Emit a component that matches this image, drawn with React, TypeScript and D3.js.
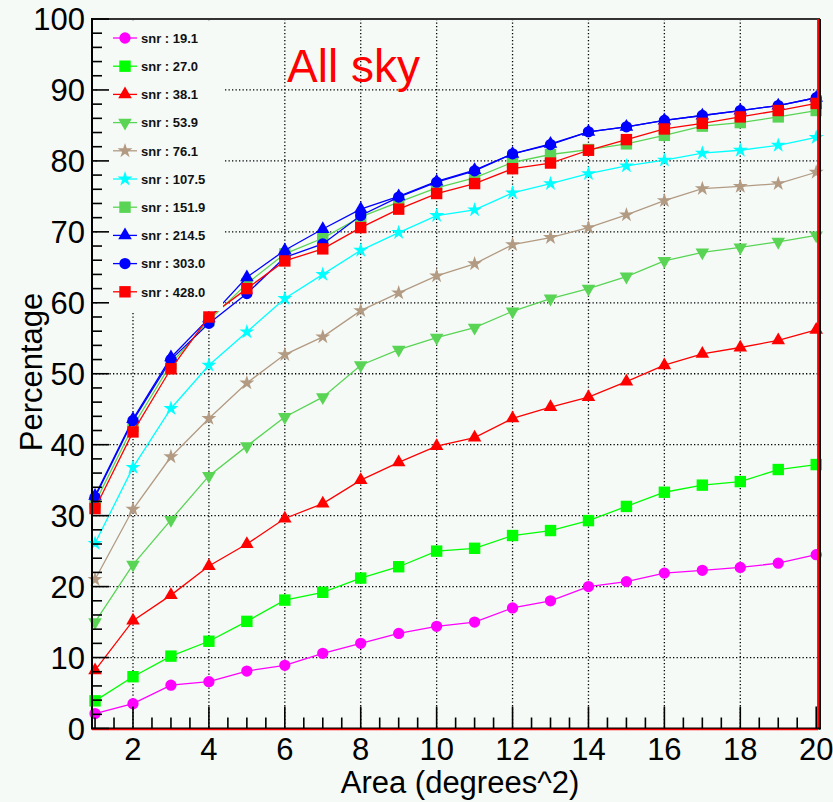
import React from "react";
import * as d3 from "d3";

const areas = [1, 2, 3, 4, 5, 6, 7, 8, 9, 10, 11, 12, 13, 14, 15, 16, 17, 18, 19, 20];

const snr19 = [2.1, 3.5, 6.1, 6.6, 8.1, 8.9, 10.6, 12.0, 13.4, 14.4, 15.0, 17.0, 18.0, 20.0, 20.7, 21.9, 22.3, 22.7, 23.3, 24.5];
const snr27 = [3.9, 7.3, 10.2, 12.3, 15.1, 18.1, 19.2, 21.2, 22.8, 25.0, 25.4, 27.2, 27.9, 29.3, 31.3, 33.3, 34.3, 34.8, 36.5, 37.2];
const snr38 = [8.2, 15.2, 18.8, 22.9, 26.0, 29.6, 31.7, 35.0, 37.5, 39.8, 41.0, 43.7, 45.3, 46.7, 48.9, 51.2, 52.8, 53.7, 54.7, 56.2];
const snr54 = [15.0, 23.1, 29.4, 35.6, 39.8, 43.9, 46.7, 51.2, 53.4, 55.1, 56.5, 58.8, 60.6, 62.0, 63.7, 65.9, 67.1, 67.8, 68.6, 69.5];
const snr76 = [21.0, 30.9, 38.3, 43.7, 48.7, 52.7, 55.2, 58.9, 61.4, 63.8, 65.5, 68.2, 69.2, 70.6, 72.4, 74.4, 76.1, 76.4, 76.8, 78.4];
const snr107 = [26.1, 36.8, 45.1, 51.2, 55.9, 60.6, 64.0, 67.4, 69.9, 72.3, 73.1, 75.5, 76.8, 78.2, 79.3, 80.1, 81.1, 81.5, 82.2, 83.3];
const snr152 = [31.8, 42.6, 51.4, 57.5, 62.7, 66.9, 69.1, 72.1, 74.2, 76.2, 77.6, 79.8, 80.9, 81.6, 82.4, 83.6, 84.9, 85.4, 86.2, 87.1];
const snr214 = [32.8, 43.6, 52.3, 57.8, 63.6, 67.4, 70.4, 73.2, 75.0, 77.1, 78.7, 81.0, 82.4, 84.1, 84.8, 85.7, 86.4, 87.1, 87.8, 88.9];
const snr303 = [32.6, 43.4, 52.0, 57.1, 61.3, 66.4, 68.3, 72.3, 74.9, 77.0, 78.6, 81.0, 82.3, 84.1, 84.8, 85.7, 86.4, 87.1, 87.8, 88.9];
const snr428 = [31.0, 41.8, 50.7, 58.0, 62.0, 65.9, 67.6, 70.6, 73.2, 75.4, 76.8, 78.9, 79.7, 81.5, 83.0, 84.5, 85.3, 86.2, 87.1, 88.1];

const seriesLabels = ["snr : 19.1", "snr : 27.0", "snr : 38.1", "snr : 53.9", "snr : 76.1", "snr : 107.5", "snr : 151.9", "snr : 214.5", "snr : 303.0", "snr : 428.0"];
const seriesValues = [snr19, snr27, snr38, snr54, snr76, snr107, snr152, snr214, snr303, snr428];
const seriesColors = ["#ff00ff", "#00ff00", "#ff0000", "#59d454", "#b39a82", "#00ffff", "#59d454", "#0000ff", "#0000ff", "#ff0000"];
const seriesMarkers = ["circle", "square", "triUp", "triDown", "star", "star", "square", "triUp", "circle", "square"];

const xTicks = [2, 4, 6, 8, 10, 12, 14, 16, 18, 20];
const yTicks = [0, 10, 20, 30, 40, 50, 60, 70, 80, 90, 100];

const BG = "#f5faf7";

function markerPath(kind: string): { d: string; rot: number } {
  switch (kind) {
    case "circle":
      return { d: d3.symbol().type(d3.symbolCircle).size(100)()!, rot: 0 };
    case "square":
      return { d: d3.symbol().type(d3.symbolSquare).size(130)()!, rot: 0 };
    case "triUp":
      return { d: d3.symbol().type(d3.symbolTriangle).size(80)()!, rot: 0 };
    case "triDown":
      return { d: d3.symbol().type(d3.symbolTriangle).size(80)()!, rot: 180 };
    default:
      return { d: d3.symbol().type(d3.symbolStar).size(70)()!, rot: 0 };
  }
}

export default function App() {
  const W = 833, H = 802;
  const left = 92, right = 820, top = 19, bottom = 728.5;
  const x = d3.scaleLinear().domain([0.92, 20.1]).range([left, right]);
  const y = d3.scaleLinear().domain([0, 100]).range([bottom, top]);

  const line = d3.line<number>().x((_, i) => x(areas[i])).y((v) => y(v));

  const xMinor = d3.range(1, 20.01, 0.5).filter((v) => !xTicks.includes(v));
  const yMinor = d3.range(0, 100.01, 2).filter((v) => v % 10 !== 0);

  const legendY0 = 38, legendDy = 28.2;

  return (
    <svg width={W} height={H} style={{ position: "absolute", left: 0, top: 0, background: BG }} fontFamily="'Liberation Sans', Arial, sans-serif">
      <rect x={0} y={0} width={W} height={H} fill={BG} />
      {/* grid */}
      {xTicks.filter((t) => t < 20).map((t) => (
        <line key={"gx" + t} x1={x(t)} x2={x(t)} y1={top} y2={bottom} stroke="#000" strokeWidth={1.3} strokeDasharray="1.3 2.2" />
      ))}
      {yTicks.filter((t) => t > 0 && t < 100).map((t) => (
        <line key={"gy" + t} x1={left} x2={right} y1={y(t)} y2={y(t)} stroke="#000" strokeWidth={1.3} strokeDasharray="1.3 2.2" />
      ))}
      {/* series */}
      {seriesValues.map((vals, si) => {
        const m = markerPath(seriesMarkers[si]);
        return (
          <g key={"s" + si}>
            <path d={line(vals)!} fill="none" stroke={seriesColors[si]} strokeWidth={1.3} />
            {vals.map((v, i) => (
              <path key={i} d={m.d} transform={`translate(${x(areas[i])},${y(v)}) rotate(${m.rot})`} fill={seriesColors[si]} />
            ))}
          </g>
        );
      })}
      {/* legend box */}
      <rect x={97} y={22} width={126} height={289} fill={BG} />
      {seriesLabels.map((lab, si) => {
        const m = markerPath(seriesMarkers[si]);
        const ly = legendY0 + si * legendDy;
        return (
          <g key={"l" + si}>
            <line x1={113} x2={137} y1={ly} y2={ly} stroke={seriesColors[si]} strokeWidth={1.3} />
            <path d={m.d} transform={`translate(125,${ly}) rotate(${m.rot})`} fill={seriesColors[si]} />
            <text x={141} y={ly + 4.7} fontSize={13} fontWeight="bold" fill="#111">{lab}</text>
          </g>
        );
      })}
      {/* frame */}
      <line x1={left} x2={right} y1={top} y2={top} stroke="#333" strokeWidth={2} />
      <line x1={right} x2={right} y1={top} y2={bottom + 1} stroke="#000" strokeWidth={2} />
      <line x1={x(20.05)} x2={x(20.05)} y1={top} y2={bottom} stroke="#ff0000" strokeWidth={2} />
      {/* axes */}
      <line x1={left} x2={left} y1={top - 1} y2={bottom + 1} stroke="#000" strokeWidth={2} />
      <line x1={left} x2={right} y1={bottom} y2={bottom} stroke="#000" strokeWidth={2} />
      <line x1={left} x2={x(20.05)} y1={bottom + 1} y2={bottom + 1} stroke="#ff0000" strokeWidth={1.5} />
      {yTicks.map((t) => (
        <line key={"yt" + t} x1={left} x2={left + 17} y1={y(t)} y2={y(t)} stroke="#000" strokeWidth={1.6} />
      ))}
      {yMinor.map((t) => (
        <line key={"ym" + t} x1={left} x2={left + 10} y1={y(t)} y2={y(t)} stroke="#000" strokeWidth={1.6} />
      ))}
      {xTicks.map((t) => (
        <line key={"xt" + t} x1={x(t)} x2={x(t)} y1={bottom} y2={bottom - 22} stroke="#000" strokeWidth={1.6} />
      ))}
      {xMinor.map((t) => (
        <line key={"xm" + t} x1={x(t)} x2={x(t)} y1={bottom} y2={bottom - 11} stroke="#000" strokeWidth={1.6} />
      ))}
      {yTicks.map((t) => (
        <text key={"yl" + t} x={85} y={y(t) + 11} textAnchor="end" fontSize={31} fill="#000">{t}</text>
      ))}
      {xTicks.map((t) => (
        <text key={"xl" + t} x={x(t)} y={760} textAnchor="middle" fontSize={31} fill="#000">{t}</text>
      ))}
      <text x={(left + right) / 2 + 4} y={793} textAnchor="middle" fontSize={31} fill="#000">Area (degrees^2)</text>
      <text transform={`translate(42,372) rotate(-90)`} textAnchor="middle" fontSize={31} fill="#000">Percentage</text>
      <text x={287} y={82} fontSize={46} fill="#ff0000">All sky</text>
    </svg>
  );
}
